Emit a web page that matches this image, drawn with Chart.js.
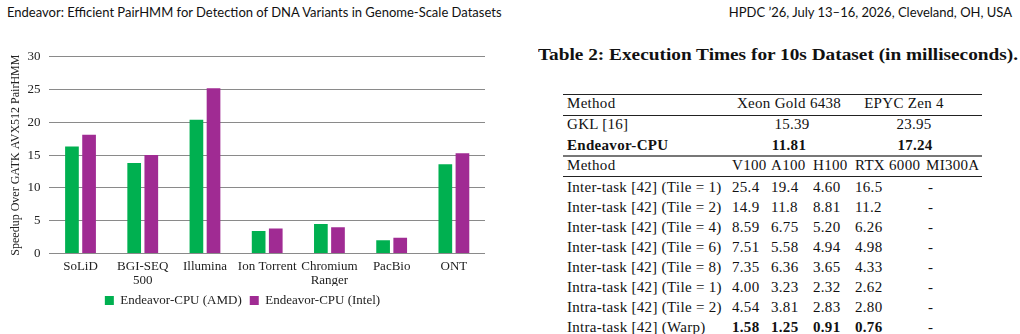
<!DOCTYPE html>
<html>
<head>
<meta charset="utf-8">
<script src="https://cdn.jsdelivr.net/npm/chart.js@4.4.1/dist/chart.umd.min.js"></script>
<style>
  html, body { margin: 0; padding: 0; background: #fff; }
  body { width: 1020px; height: 334px; position: relative; overflow: hidden; }
  .hdr { position: absolute; top: 4px; font-family: Lato, "Noto Sans", sans-serif; font-size: 13px; color: #111; white-space: nowrap; }
  #chartBox { position: absolute; left: 0; top: 40px; }
  .cap { position: absolute; left: 538px; top: 46px; font-family: "Liberation Serif", serif; font-weight: bold; font-size: 16px; color: #111; white-space: nowrap; transform-origin: 0 50%; }
  .t { position: absolute; font-family: "Liberation Serif", serif; font-size: 15px; letter-spacing: 0.3px; line-height: 20px; color: #111; white-space: nowrap; }
  .b { font-weight: bold; }
  .rule { position: absolute; left: 563px; width: 419px; background: #222; }
</style>
</head>
<body>
<div class="hdr" style="left:7px">Endeavor: Efficient PairHMM for Detection of DNA Variants in Genome-Scale Datasets</div>
<div class="hdr" style="right:8px">HPDC ’26, July 13–16, 2026, Cleveland, OH, USA</div>

<div id="chartBox"><canvas id="chart" width="500" height="277"></canvas></div>

<div class="cap" id="caption">Table 2: Execution Times for 10s Dataset (in milliseconds).</div>
<div id="table"></div>

<script>
// chart data: speedup over GATK AVX512 PairHMM
var categories = ['SoLiD', ['BGI-SEQ', '500'], 'Illumina', 'Ion Torrent', ['Chromium', 'Ranger'], 'PacBio', 'ONT'];
var amdSpeedup = [16.3, 13.8, 20.4, 3.4, 4.5, 2.0, 13.6];
var intelSpeedup = [18.1, 15.0, 25.2, 3.8, 4.0, 2.4, 15.3];
var yTicks = [0, 5, 10, 15, 20, 25, 30];

var serif = '"Liberation Serif", "Times New Roman", serif';

new Chart(document.getElementById('chart'), {
	type: 'bar',
	data: {
		labels: categories,
		datasets: [
			{ label: 'Endeavor-CPU (AMD)', data: amdSpeedup, backgroundColor: '#00b050' },
			{ label: 'Endeavor-CPU (Intel)', data: intelSpeedup, backgroundColor: '#a02b93' }
		]
	},
	options: {
		responsive: false,
		animation: false,
		devicePixelRatio: 1,
		categoryPercentage: 0.55,
		barPercentage: 0.8,
		layout: { padding: { top: 1, right: 15, left: 0, bottom: 0 } },
		plugins: {
			tooltip: { enabled: false },
			legend: {
				position: 'bottom',
				labels: { boxWidth: 9, boxHeight: 9, padding: 8, color: '#222', font: { family: serif, size: 13 } }
			}
		},
		scales: {
			x: {
				grid: { display: false },
				border: { display: false },
				ticks: { maxRotation: 0, autoSkip: false, color: '#222', padding: -2, font: { family: serif, size: 13, lineHeight: 1.1 } }
			},
			y: {
				min: 0,
				max: 30,
				afterBuildTicks: function(axis) { axis.ticks = yTicks.map(function(v) { return { value: v }; }); },
				grid: { color: '#8a8a8a', drawTicks: false },
				border: { display: false },
				ticks: { padding: 9, color: '#222', font: { family: serif, size: 13 } },
				// shift the title toward the tick labels, keeping the same total width
				title: { display: true, text: 'Speedup Over GATK AVX512 PairHMM', color: '#222', padding: { top: 9, bottom: -5 }, font: { family: serif, size: 12 } }
			}
		}
	}
});

// stretch the caption to the width it takes in the paper
var cap = document.getElementById('caption');
cap.style.transform = 'scaleX(' + (480 / cap.getBoundingClientRect().width) + ')';

// table text, placed row by row
var table = document.getElementById('table');
function put(text, x, y, cls, align) {
	var el = document.createElement('div');
	el.className = 't' + (cls ? ' ' + cls : '');
	el.textContent = text;
	el.style.top = (y - 10) + 'px';
	if (align === 'center') {
		el.style.left = (x - 100) + 'px';
		el.style.width = '200px';
		el.style.textAlign = 'center';
	} else {
		el.style.left = x + 'px';
	}
	table.appendChild(el);
}
function rule(y, h, color) {
	var el = document.createElement('div');
	el.className = 'rule';
	el.style.top = y + 'px';
	el.style.height = h + 'px';
	if (color) el.style.background = color;
	table.appendChild(el);
}

rule(93.5, 1.2);
rule(115, 1);
rule(155, 1.6, '#777');
rule(176, 1);

// cpu section
put('Method', 567, 103);
put('Xeon Gold 6438', 789, 103, '', 'center');
put('EPYC Zen 4', 904, 103, '', 'center');
put('GKL [16]', 567, 124);
put('15.39', 792, 124, '', 'center');
put('23.95', 914, 124, '', 'center');
put('Endeavor-CPU', 567, 145, 'b');
put('11.81', 789, 145, 'b', 'center');
put('17.24', 915, 145, 'b', 'center');

// gpu section
var gpuCols = [732, 771, 813, 855, 928];
put('Method', 567, 165);
['V100', 'A100', 'H100', 'RTX 6000', 'MI300A'].forEach(function(h, i) {
	put(h, i === 4 ? 926 : gpuCols[i], 165);
});
var gpuRows = [
	['Inter-task [42] (Tile = 1)', '25.4', '19.4', '4.60', '16.5', '-'],
	['Inter-task [42] (Tile = 2)', '14.9', '11.8', '8.81', '11.2', '-'],
	['Inter-task [42] (Tile = 4)', '8.59', '6.75', '5.20', '6.26', '-'],
	['Inter-task [42] (Tile = 6)', '7.51', '5.58', '4.94', '4.98', '-'],
	['Inter-task [42] (Tile = 8)', '7.35', '6.36', '3.65', '4.33', '-'],
	['Intra-task [42] (Tile = 1)', '4.00', '3.23', '2.32', '2.62', '-'],
	['Intra-task [42] (Tile = 2)', '4.54', '3.81', '2.83', '2.80', '-'],
	['Intra-task [42] (Warp)', '1.58', '1.25', '0.91', '0.76', '-']
];
gpuRows.forEach(function(r, i) {
	var y = 186.5 + i * 20;
	put(r[0], 567, y);
	for (var c = 1; c < r.length; c++) {
		var bold = (i === gpuRows.length - 1 && c < 5) ? 'b' : '';
		put(r[c], gpuCols[c - 1], y, bold);
	}
});
</script>
</body>
</html>
